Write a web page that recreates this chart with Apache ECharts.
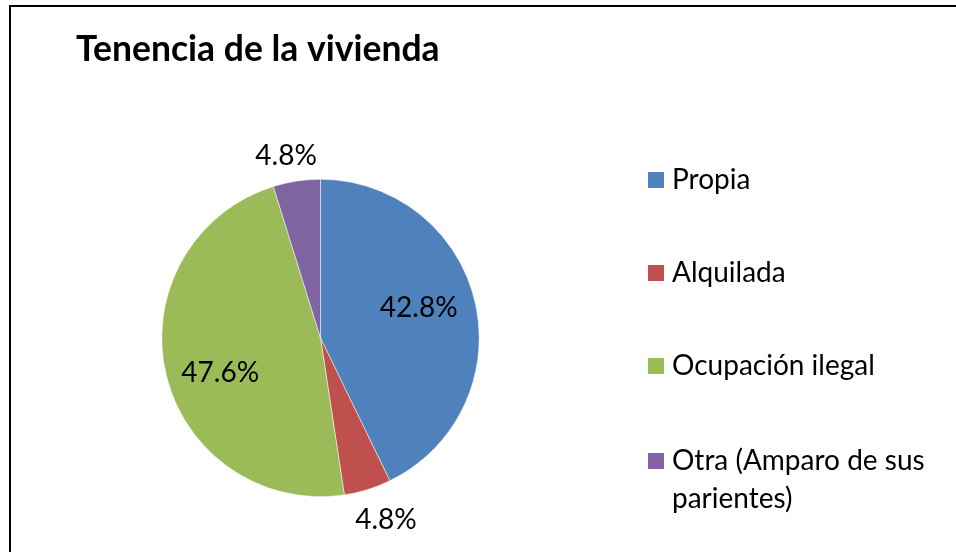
<!DOCTYPE html>
<html>
<head>
<meta charset="utf-8">
<script src="https://cdn.jsdelivr.net/npm/echarts@6/dist/echarts.min.js"></script>
<style>
  html, body { margin: 0; padding: 0; background: #fff; overflow: hidden; }
  #chart { width: 956px; height: 552px; }
</style>
</head>
<body>
<div id="chart"></div>
<script>
// datos
const categories = ['Propia', 'Alquilada', 'Ocupación ilegal', 'Otra (Amparo de sus parientes)']
const legendNames = ['Propia', 'Alquilada', 'Ocupación ilegal', '\nOtra (Amparo de sus\nparientes)']
const values = [42.8, 4.8, 47.6, 4.8]
const colors = ['#4F81BD', '#C0504D', '#9BBB59', '#8064A2']
// desplazamiento de cada etiqueta respecto a su posicion "inside"
const labelOffsets = [[18, -12], [41, 103], [-20, 17], [-22, -101]]

const font = 'Lato, "Open Sans", sans-serif'

let chart = echarts.init(document.getElementById('chart'))

const legendBase = {
  orient: 'vertical',
  left: 646,
  height: 600,
  padding: 0,
  itemWidth: 18,
  itemHeight: 18,
  itemGap: 63,
  icon: 'rect',
  formatter: name => legendNames[categories.indexOf(name)],
  textStyle: { fontFamily: font, fontSize: 28, color: '#000', lineHeight: 30, padding: [0, 0, 0, 2] }
}

let option = {
  animation: false,
  color: colors,
  title: {
    text: 'Tenencia de la vivienda',
    left: 76,
    top: 32,
    padding: 0,
    textStyle: { fontFamily: font, fontSize: 35.5, fontWeight: 'bold', color: '#000' }
  },
  graphic: [{
    type: 'rect',
    shape: { x: 10, y: 6, width: 1200, height: 1200 },
    style: { fill: 'none', stroke: '#000', lineWidth: 2 },
    silent: true
  }],
  legend: [
    Object.assign({}, legendBase, { top: 165, data: categories.slice(0, 3) }),
    Object.assign({}, legendBase, {
      top: 404,
      data: categories.slice(3),
      textStyle: Object.assign({}, legendBase.textStyle, { lineHeight: 38 })
    })
  ],
  series: [{
    type: 'pie',
    center: [320.5, 338],
    radius: 158.7,
    startAngle: 90,
    clockwise: true,
    itemStyle: { borderColor: '#fff', borderWidth: 0.5 },
    label: {
      show: true,
      position: 'inside',
      fontFamily: font,
      fontSize: 28,
      color: '#000',
      overflow: 'none',
      formatter: p => p.value.toFixed(1) + '%'
    },
    labelLine: { show: false },
    emphasis: { disabled: true },
    data: categories.map((c, i) => ({
      name: c,
      value: values[i],
      label: { offset: labelOffsets[i] }
    }))
  }]
}

chart.setOption(option)
</script>
</body>
</html>
